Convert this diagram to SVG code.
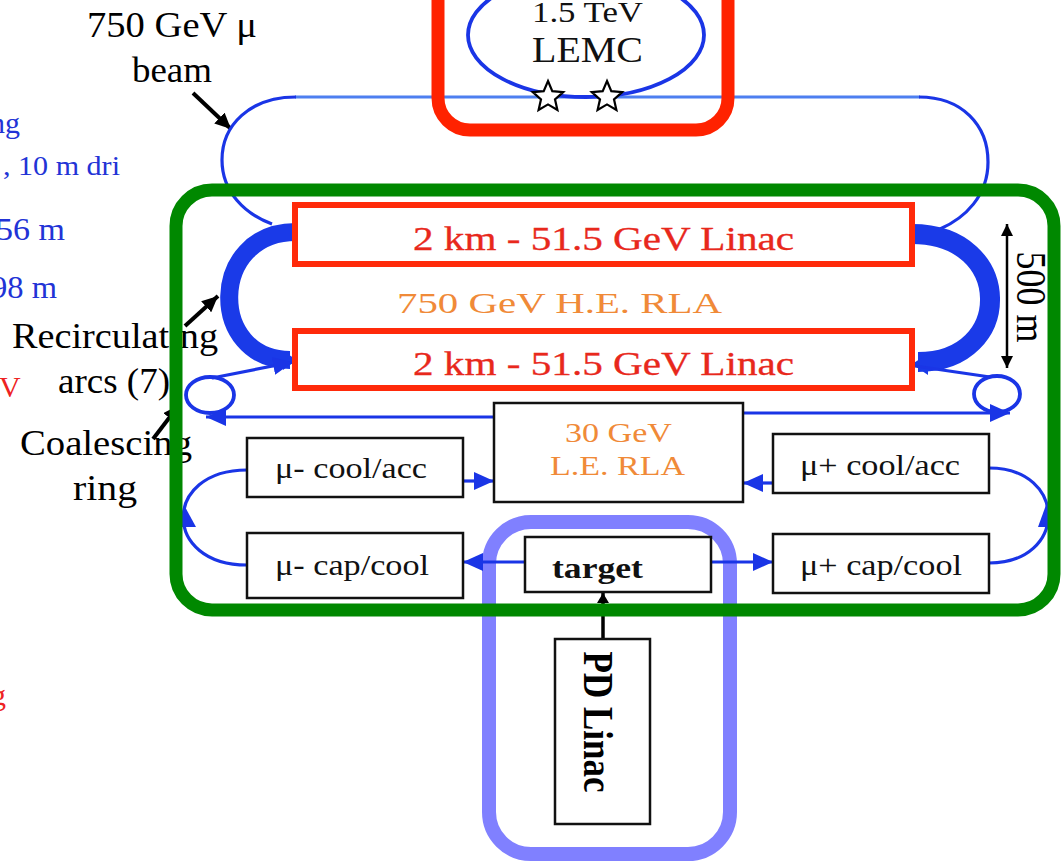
<svg xmlns="http://www.w3.org/2000/svg" width="1063" height="861" viewBox="0 0 1063 861">
<style>
.lbl{font-family:"Liberation Serif","Times New Roman",serif;font-size:36px;fill:#000}
.frag{font-family:"Liberation Serif","Times New Roman",serif;fill:#2233d6}
.box{fill:#fff;stroke:#111;stroke-width:2.5}
.linac{fill:#fff;stroke:#ff2a0a;stroke-width:6}
.linac-t{font-family:"Liberation Serif","Times New Roman",serif;font-size:33px;fill:#e8281c;stroke:#e8281c;stroke-width:0.3}
.orange{font-family:"Liberation Serif","Times New Roman",serif;fill:#f08a38}
.bt{font-family:"Liberation Serif","Times New Roman",serif;font-size:29px;fill:#111}
.bl{fill:none;stroke:#1a35e6;stroke-width:3.2}
.bk{fill:none;stroke:#000;stroke-width:4}
.star{fill:#fff;stroke:#000;stroke-width:2.2}
</style>
<defs>
<marker id="ab" viewBox="0 0 10 10" refX="10" refY="5" markerUnits="userSpaceOnUse" markerWidth="20" markerHeight="18" orient="auto" preserveAspectRatio="none"><path d="M0,0 L10,5 L0,10 z" fill="#1a35e6"/></marker>
<marker id="ak" viewBox="0 0 10 10" refX="10" refY="5" markerUnits="userSpaceOnUse" markerWidth="16" markerHeight="15" orient="auto" preserveAspectRatio="none"><path d="M0,0 L10,5 L0,10 z" fill="#000"/></marker>
<marker id="ak2" viewBox="0 0 10 10" refX="10" refY="5" markerUnits="userSpaceOnUse" markerWidth="10" markerHeight="12" orient="auto" preserveAspectRatio="none"><path d="M0,0 L10,5 L0,10 z" fill="#000"/></marker>
<marker id="dim" viewBox="0 0 10 10" refX="10" refY="5" markerUnits="userSpaceOnUse" markerWidth="12" markerHeight="12" orient="auto" preserveAspectRatio="none"><path d="M0,0 L10,5 L0,10 z" fill="#000"/></marker>
<polygon id="starshape" points="0,-16 4.3,-5.9 15.2,-4.9 7,2.3 9.4,12.9 0,7.4 -9.4,12.9 -7,2.3 -15.2,-4.9 -4.3,-5.9"/>
</defs>
<rect width="1063" height="861" fill="#fff"/>

<!-- target-station highlight -->
<rect id="highlight-target" x="489" y="522" width="241" height="332" rx="42" fill="none" stroke="#8080ff" stroke-width="14"/>

<!-- clipped slide text at the left edge -->
<g id="left-fragments">
<text class="frag" x="-10" y="133" font-size="30">ng</text>
<text class="frag" x="3" y="175" font-size="28" textLength="117" lengthAdjust="spacingAndGlyphs">, 10 m dri</text>
<text class="frag" x="-4" y="240" font-size="32" textLength="69" lengthAdjust="spacingAndGlyphs">56 m</text>
<text class="frag" x="-9" y="298" font-size="32" textLength="66" lengthAdjust="spacingAndGlyphs">98 m</text>
<text x="-1" y="397" font-size="30" font-family="Liberation Serif, serif" fill="#ee2222">V</text>
<text x="-9" y="705" font-size="30" font-family="Liberation Serif, serif" fill="#ee2222">g</text>
</g>

<!-- annotation labels -->
<g id="annotations">
<text class="lbl" x="87" y="37" textLength="170" lengthAdjust="spacingAndGlyphs">750 GeV μ</text>
<text class="lbl" x="132" y="82" textLength="80" lengthAdjust="spacingAndGlyphs">beam</text>
<text class="lbl" x="12" y="348" textLength="206" lengthAdjust="spacingAndGlyphs">Recirculating</text>
<text class="lbl" x="58" y="393" textLength="112" lengthAdjust="spacingAndGlyphs">arcs (7)</text>
<text class="lbl" x="20" y="455" textLength="172" lengthAdjust="spacingAndGlyphs">Coalescing</text>
<text class="lbl" x="73" y="500" textLength="64" lengthAdjust="spacingAndGlyphs">ring</text>
<line class="bk" x1="193" y1="93" x2="231" y2="129" marker-end="url(#ak)"/>
<line class="bk" x1="185" y1="326" x2="218" y2="296" marker-end="url(#ak)"/>
<line class="bk" x1="153" y1="439" x2="179" y2="405" marker-end="url(#ak)"/>
</g>

<!-- connectors -->
<g id="connectors">
<!-- upper 750 GeV beam loop -->
<path d="M 295 97 L 920 97" fill="none" stroke="#4d7ff0" stroke-width="3"/>
<path class="bl" d="M 296 97 C 250 97, 222 125, 222 160 C 222 192, 245 214, 272 224"/>
<path class="bl" d="M 919 97 C 962 97, 988 125, 988 162 C 988 196, 965 218, 940 229"/>
<!-- recirculating arcs -->
<path d="M 296 232 C 208 232, 208 360, 290 360" fill="none" stroke="#1a3ae8" stroke-width="18"/>
<polygon points="297,360 283,351 283,370" fill="#1a3ae8"/>
<path d="M 912 234 C 1015 234, 1015 362, 918 362" fill="none" stroke="#1a3ae8" stroke-width="20"/>
<polygon points="912,364 928,354 928,375" fill="#1a3ae8"/>
<!-- coalescing rings -->
<ellipse cx="210" cy="395" rx="24" ry="18" fill="none" stroke="#1a35e6" stroke-width="3.8"/>
<line class="bl" x1="212" y1="378" x2="293" y2="362" marker-end="url(#ab)"/>
<line class="bl" x1="494" y1="417" x2="206" y2="417" marker-end="url(#ab)"/>
<ellipse cx="997" cy="394" rx="23" ry="18" fill="none" stroke="#1a35e6" stroke-width="3.8"/>
<line class="bl" x1="915" y1="366" x2="990" y2="377"/>
<line class="bl" x1="743" y1="413" x2="1010" y2="413" marker-end="url(#ab)"/>
<!-- cooling loops -->
<path class="bl" d="M 247 470 C 162 470, 162 565, 247 565"/>
<polygon points="184,505 179,527 196,527" fill="#1a35e6"/>
<path class="bl" d="M 989 468 C 1068 468, 1068 563, 989 563"/>
<polygon points="1046,505 1038,527 1053,527" fill="#1a35e6"/>
<!-- box arrows -->
<line class="bl" x1="463" y1="481" x2="494" y2="481" marker-end="url(#ab)"/>
<line class="bl" x1="773" y1="483" x2="743" y2="483" marker-end="url(#ab)"/>
<line class="bl" x1="525" y1="562" x2="463" y2="562" marker-end="url(#ab)"/>
<line class="bl" x1="711" y1="562" x2="773" y2="562" marker-end="url(#ab)"/>
<line x1="603" y1="640" x2="603" y2="593" stroke="#000" stroke-width="3.5" marker-end="url(#ak2)"/>
<!-- 500 m dimension -->
<line x1="1007" y1="300" x2="1007" y2="224" stroke="#000" stroke-width="2.5" marker-end="url(#dim)"/>
<line x1="1007" y1="300" x2="1007" y2="368" stroke="#000" stroke-width="2.5" marker-end="url(#dim)"/>
</g>

<!-- LE/HE complex highlight -->
<rect id="highlight-complex" x="176" y="190" width="878" height="420" rx="36" fill="none" stroke="#008800" stroke-width="13"/>

<!-- LEMC collider ring -->
<g id="node-lemc">
<ellipse cx="586" cy="35" rx="118" ry="62" fill="none" stroke="#1a35e6" stroke-width="3.8"/>
<text x="532" y="22" font-family="Liberation Serif, serif" font-size="30" fill="#111" textLength="111" lengthAdjust="spacingAndGlyphs">1.5 TeV</text>
<text x="532" y="62" font-family="Liberation Serif, serif" font-size="36" fill="#111" textLength="111" lengthAdjust="spacingAndGlyphs">LEMC</text>
<use href="#starshape" class="star" transform="translate(548,97)"/>
<use href="#starshape" class="star" transform="translate(607,97)"/>
</g>
<rect id="highlight-lemc" x="438" y="-40" width="290" height="170" rx="32" fill="none" stroke="#ff2200" stroke-width="13"/>

<g id="node-linac-top">
<rect class="linac" x="295" y="205" width="617" height="59"/>
<text class="linac-t" x="413" y="250" textLength="381" lengthAdjust="spacingAndGlyphs">2 km - 51.5 GeV Linac</text>
</g>
<g id="node-he-rla">
<text class="orange" x="397" y="313" font-size="30" textLength="325" lengthAdjust="spacingAndGlyphs">750 GeV H.E. RLA</text>
</g>
<g id="node-linac-bottom">
<rect class="linac" x="295" y="331" width="617" height="57"/>
<text class="linac-t" x="413" y="375" textLength="381" lengthAdjust="spacingAndGlyphs">2 km - 51.5 GeV Linac</text>
</g>
<g id="dimension-label">
<text transform="translate(1017,297) scale(1.15,1) rotate(90)" text-anchor="middle" font-family="Liberation Serif, serif" font-size="36" fill="#000">500 m</text>
</g>

<g id="node-le-rla">
<rect class="box" x="494" y="403" width="249" height="99"/>
<text class="orange" x="565" y="442" font-size="28" textLength="107" lengthAdjust="spacingAndGlyphs">30 GeV</text>
<text class="orange" x="550" y="475" font-size="28" textLength="135" lengthAdjust="spacingAndGlyphs">L.E. RLA</text>
</g>
<g id="node-mu-minus-cool">
<rect class="box" x="247" y="438" width="216" height="59"/>
<text class="bt" x="275" y="478" textLength="152" lengthAdjust="spacingAndGlyphs">μ- cool/acc</text>
</g>
<g id="node-mu-minus-cap">
<rect class="box" x="247" y="533" width="216" height="65"/>
<text class="bt" x="275" y="575" textLength="154" lengthAdjust="spacingAndGlyphs">μ- cap/cool</text>
</g>
<g id="node-target">
<rect class="box" x="525" y="537" width="186" height="55"/>
<text x="552" y="578" font-family="Liberation Serif, serif" font-size="30" font-weight="bold" fill="#111" textLength="91" lengthAdjust="spacingAndGlyphs">target</text>
</g>
<g id="node-mu-plus-cool">
<rect class="box" x="773" y="434" width="216" height="59"/>
<text class="bt" x="800" y="475" textLength="160" lengthAdjust="spacingAndGlyphs">μ+ cool/acc</text>
</g>
<g id="node-mu-plus-cap">
<rect class="box" x="773" y="534" width="216" height="59"/>
<text class="bt" x="800" y="575" textLength="162" lengthAdjust="spacingAndGlyphs">μ+ cap/cool</text>
</g>
<g id="node-pd-linac">
<rect class="box" x="555" y="639" width="95" height="185"/>
<text transform="translate(584,722) scale(1.2,1) rotate(90)" text-anchor="middle" font-family="Liberation Serif, serif" font-size="35" font-weight="bold" fill="#000">PD Linac</text>
</g>
</svg>
